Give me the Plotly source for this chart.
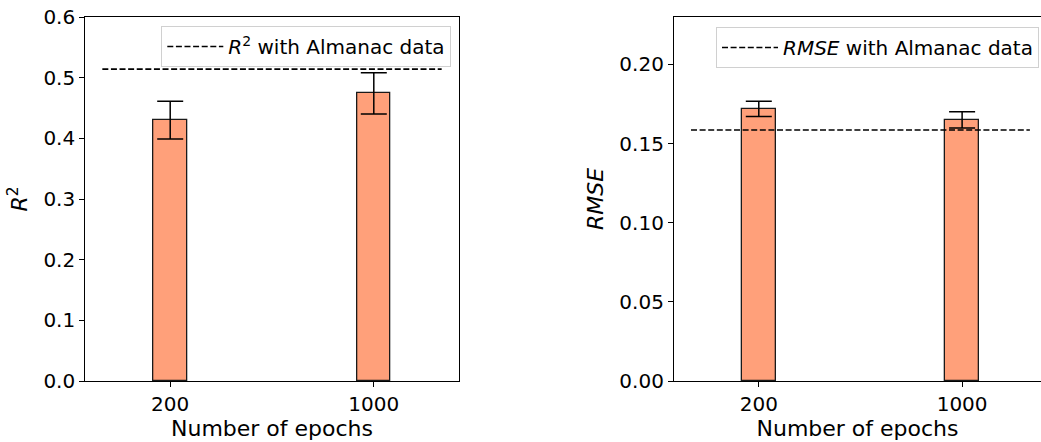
import plotly.graph_objects as go

epochs = ["200", "1000"]
r2_mean = [0.430, 0.474]
r2_err = [0.031, 0.034]
r2_almanac = 0.514
rmse_mean = [0.172, 0.165]
rmse_err = [0.0048, 0.0052]
rmse_almanac = 0.1586
line_x = [-1/3, 4/3]

xpos = list(range(len(epochs)))
W, H = 1041, 442

fig = go.Figure()

bar_style = dict(marker=dict(color="#FFA07A", line=dict(color="#1a1a1a", width=1.3)),
                 width=1/6, showlegend=False)
err_style = dict(type="data", color="black", thickness=1.5, width=13, visible=True)

fig.add_trace(go.Bar(x=xpos, y=r2_mean, error_y=dict(array=r2_err, **err_style),
                     xaxis="x", yaxis="y", **bar_style))
fig.add_trace(go.Scatter(x=line_x, y=[r2_almanac] * 2, mode="lines",
                         line=dict(color="black", width=1.6, dash="6px,2.6px"),
                         name="<i>R</i><sup>2</sup> with Almanac data",
                         xaxis="x", yaxis="y", legend="legend"))
fig.add_trace(go.Bar(x=xpos, y=rmse_mean, error_y=dict(array=rmse_err, **err_style),
                     xaxis="x2", yaxis="y2", **bar_style))
fig.add_trace(go.Scatter(x=line_x, y=[rmse_almanac] * 2, mode="lines",
                         line=dict(color="black", width=1.6, dash="6px,2.6px"),
                         name="<i>RMSE</i> with Almanac data",
                         xaxis="x2", yaxis="y2", legend="legend2"))

font = dict(family="DejaVu Sans", color="black")
tickfont = dict(family="DejaVu Sans", size=20, color="black")
titlefont = dict(family="DejaVu Sans", size=22, color="black")
legfont = dict(family="DejaVu Sans", size=20, color="black")

axis_common = dict(showline=True, linecolor="black", linewidth=1.2, ticks="outside",
                   ticklen=5, tickwidth=1.2, tickcolor="black", showgrid=False,
                   zeroline=False, tickfont=tickfont)

fig.update_layout(
    width=W, height=H,
    margin=dict(l=0, r=0, t=17, b=61),
    paper_bgcolor="white", plot_bgcolor="white",
    font=font,
    xaxis=dict(domain=[85.3 / W, 458.7 / W], range=[-0.417, 1.417], mirror=True,
               tickvals=xpos, ticktext=epochs, anchor="y",
               title=dict(text="Number of epochs", font=titlefont, standoff=0),
               **axis_common),
    yaxis=dict(domain=[0, 1], range=[0, 0.6], dtick=0.1, tickformat=".1f", mirror=True,
               anchor="x",
               title=dict(text="<i>R</i><sup>2</sup>", font=titlefont, standoff=9),
               **axis_common),
    xaxis2=dict(domain=[674 / W, 1.0], range=[-0.417, 1.388], mirror=True,
                tickvals=xpos, ticktext=epochs, anchor="y2",
                title=dict(text="Number of epochs", font=titlefont, standoff=0),
                **axis_common),
    yaxis2=dict(domain=[0, 1], range=[0, 0.23], tickvals=[0, 0.05, 0.10, 0.15, 0.20],
                tickformat=".2f", mirror=False, anchor="x2",
                title=dict(text="<i>RMSE</i>", font=titlefont, standoff=9),
                **axis_common),
    legend=dict(x=451.3 / W, xanchor="right", y=(381 - 26) / 364, yanchor="top",
                bgcolor="rgba(255,255,255,0.8)", bordercolor="#d0d0d0", borderwidth=1,
                itemwidth=56, font=legfont),
    legend2=dict(x=1039 / W, xanchor="right", y=(381 - 27) / 364, yanchor="top",
                 bgcolor="rgba(255,255,255,0.8)", bordercolor="#d0d0d0", borderwidth=1,
                 itemwidth=56, font=legfont),
    bargap=0,
)

fig.write_html("out.html")
